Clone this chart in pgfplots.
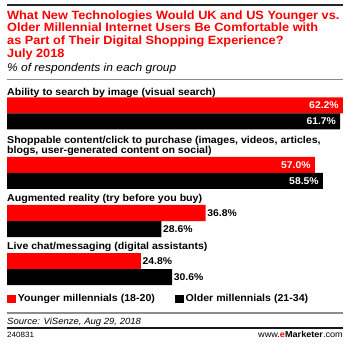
\documentclass[border=0pt]{standalone}
\usepackage{fontspec}
\setmainfont{Liberation Sans}[FakeStretch=1.06]
\usepackage{pgfplots}
\pgfplotsset{compat=1.18}
\definecolor{emred}{RGB}{255,0,0}
\definecolor{rulegray}{RGB}{140,140,140}

\begin{document}
\begin{tikzpicture}
\begin{axis}[
  x=5.4pt, y=1pt,
  xmin=-1.2963, xmax=63.8889,
  ymin=-345, ymax=0,
  hide axis, clip=false,
  xbar, bar shift=0pt, bar width=16pt,
  point meta=x,
  /pgf/number format/assume math mode=true,
  nodes near coords={\pgfmathprintnumber[fixed,fixed zerofill,precision=1]{\pgfplotspointmeta}\%},
  nodes near coords style={font=\fontsize{9.8}{12}\selectfont\bfseries, inner sep=0pt},
  legend columns=2,
  legend style={at={(axis cs:0,-299)}, anchor=west, draw=none, fill=none,
    inner sep=0pt, font=\fontsize{10}{12}\selectfont\bfseries,
    /tikz/every even column/.append style={column sep=18pt}},
  legend cell align=left,
  legend image code/.code={\fill[#1] (0pt,-4pt) rectangle (8.7pt,4pt);},
]
\path (rel axis cs:0,0) rectangle (rel axis cs:1,1);
% inside labels (top two categories)
\addplot[fill=emred, draw=none,
  every node near coord/.append style={anchor=east, xshift=-4pt, text=white}]
  coordinates {(62.2,-105.5) (57.0,-165)};
\addlegendentry{Younger millennials (18-20)}
\addplot[fill=black, draw=none,
  every node near coord/.append style={anchor=east, xshift=-4pt, text=white}]
  coordinates {(61.7,-121.5) (58.5,-181)};
\addlegendentry{Older millennials (21-34)}
% outside labels (bottom two categories)
\addplot[fill=emred, draw=none, forget plot,
  every node near coord/.append style={anchor=west, xshift=1.5pt, text=black}]
  coordinates {(36.8,-213) (24.8,-261)};
\addplot[fill=black, draw=none, forget plot,
  every node near coord/.append style={anchor=west, xshift=1.5pt, text=black}]
  coordinates {(28.6,-229) (30.6,-277)};

% rules
\draw[line width=2pt, black!85] (axis cs:0,-5.5) -- (axis cs:62.2222,-5.5);
\draw[line width=0.9pt, rulegray] (axis cs:0,-79) -- (axis cs:62.2222,-79);
\draw[line width=1.2pt, rulegray] (axis cs:0,-313) -- (axis cs:62.2222,-313);
\draw[line width=2.3pt, black!90] (axis cs:0,-328) -- (axis cs:62.2222,-328);

% title
\begin{scope}[every node/.style={anchor=base west, inner sep=0pt, text=emred, font=\fontsize{12}{14}\selectfont\bfseries}]
\node at (axis cs:0,-19.3) {What New Technologies Would UK and US Younger vs.};
\node at (axis cs:0,-32) {Older Millennial Internet Users Be Comfortable with};
\node at (axis cs:0,-45) {as Part of Their Digital Shopping Experience?};
\node at (axis cs:0,-57.5) {July 2018};
\end{scope}
\node[anchor=base west, inner sep=0pt, font=\fontsize{11.3}{13}\selectfont\itshape] at (axis cs:0,-72) {\% of respondents in each group};

% category labels
\begin{scope}[every node/.style={anchor=base west, inner sep=0pt, font=\fontsize{10}{12}\selectfont\bfseries}]
\node at (axis cs:0,-95.7) {Ability to search by image (visual search)};
\node at (axis cs:0,-143.3) {Shoppable content/click to purchase (images, videos, articles,};
\node at (axis cs:0,-154) {blogs, user-generated content on social)};
\node at (axis cs:0,-201.7) {Augmented reality (try before you buy)};
\node at (axis cs:0,-249.3) {Live chat/messaging (digital assistants)};
\end{scope}

% footer
\node[anchor=base west, inner sep=0pt, font=\fontsize{9}{11}\selectfont\itshape] at (axis cs:0,-324) {Source: ViSenze, Aug 29, 2018};
\node[anchor=base west, inner sep=0pt, font=\fontsize{7.6}{9}\selectfont] at (axis cs:0,-337.5) {240831};
\node[anchor=base east, inner sep=0pt, font=\fontsize{8.6}{10}\selectfont] at (axis cs:62.2222,-337.5) {www.{\bfseries\textcolor{emred}{e}Marketer}.com};
\end{axis}
\end{tikzpicture}
\end{document}
